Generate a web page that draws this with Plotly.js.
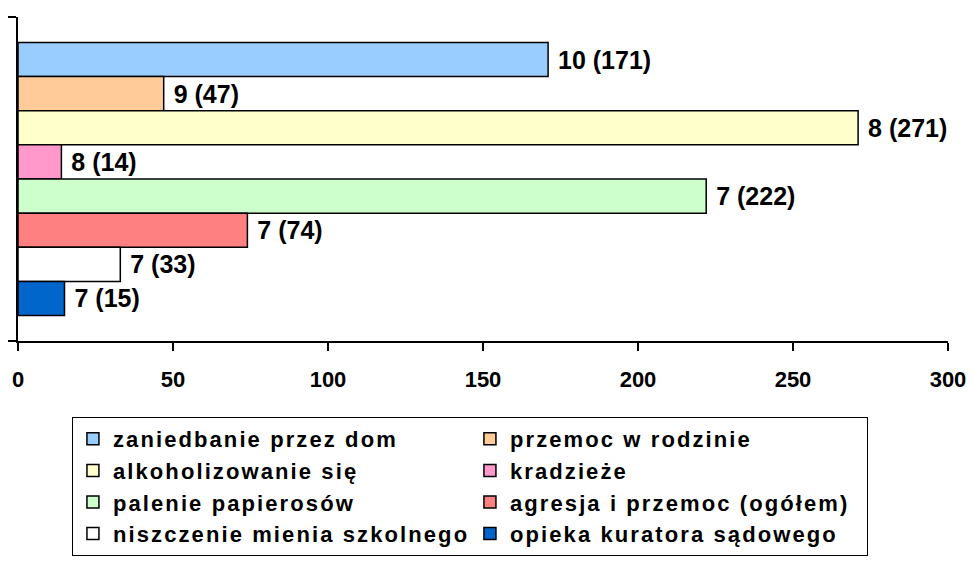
<!DOCTYPE html>
<html>
<head>
<meta charset="utf-8">
<script src="https://cdn.plot.ly/plotly-3.0.1.min.js"></script>
<style>
html,body{margin:0;padding:0;background:#fff;}
#chart{width:972px;height:561px;}
.legendtext{letter-spacing:2.1px;}
</style>
</head>
<body>
<div id="chart"></div>
<script>
// ---- data ----
const categories = [
  "zaniedbanie przez dom",
  "przemoc w rodzinie",
  "alkoholizowanie się",
  "kradzieże",
  "palenie papierosów",
  "agresja i przemoc (ogółem)",
  "niszczenie mienia szkolnego",
  "opieka kuratora sądowego"
];
const counts = [171, 47, 271, 14, 222, 74, 33, 15];
const ranks = [10, 9, 8, 8, 7, 7, 7, 7];
const colors = ["#99CCFF", "#FFCC99", "#FFFFCC", "#FF99CC", "#CCFFCC", "#FF8080", "#FFFFFF", "#0066CC"];
const xTicks = [0, 50, 100, 150, 200, 250, 300];

const FONT = "Liberation Sans, Arial, Helvetica, sans-serif";

const traces = categories.map((name, i) => ({
  type: "bar",
  orientation: "h",
  name: name,
  y: [""],
  x: [counts[i]],
  text: ["\u00a0" + ranks[i] + " (" + counts[i] + ")"],
  textposition: "outside",
  constraintext: "none",
  cliponaxis: false,
  textfont: {family: FONT, size: 25, color: "#000", weight: "bold"},
  marker: {color: colors[i], line: {color: "#000", width: 1.5}},
  hoverinfo: "skip"
}));

const layout = {
  width: 972,
  height: 561,
  paper_bgcolor: "#fff",
  plot_bgcolor: "#fff",
  margin: {l: 18, r: 24, t: 17, b: 220, autoexpand: false},
  barmode: "group",
  bargap: 0.157,
  bargroupgap: 0,
  showlegend: true,
  font: {family: FONT, color: "#000"},
  xaxis: {
    range: [0, 300],
    tickvals: xTicks,
    ticktext: xTicks.map(String),
    ticks: "outside",
    ticklen: 8,
    tickwidth: 2,
    tickcolor: "#000",
    showline: true,
    linecolor: "#000",
    linewidth: 2,
    showgrid: false,
    zeroline: false,
    ticklabelstandoff: 10,
    tickfont: {family: FONT, size: 22, color: "#000", weight: "bold"},
    fixedrange: true
  },
  yaxis: {
    autorange: "reversed",
    type: "category",
    showticklabels: false,
    ticks: "outside",
    tickson: "boundaries",
    ticklen: 8,
    tickwidth: 2,
    tickcolor: "#000",
    showline: true,
    linecolor: "#000",
    linewidth: 2,
    showgrid: false,
    zeroline: false,
    fixedrange: true
  },
  legend: {
    orientation: "h",
    x: 0.058,
    xanchor: "left",
    y: -0.2346,
    yanchor: "top",
    traceorder: "normal",
    entrywidth: 352,
    entrywidthmode: "pixels",
    bgcolor: "#fff",
    bordercolor: "#000",
    borderwidth: 1,
    font: {family: FONT, size: 22, color: "#000", weight: "bold"},
    itemclick: false,
    itemdoubleclick: false
  }
};

Plotly.newPlot("chart", traces, layout, {displayModeBar: false, staticPlot: true});
</script>
</body>
</html>
